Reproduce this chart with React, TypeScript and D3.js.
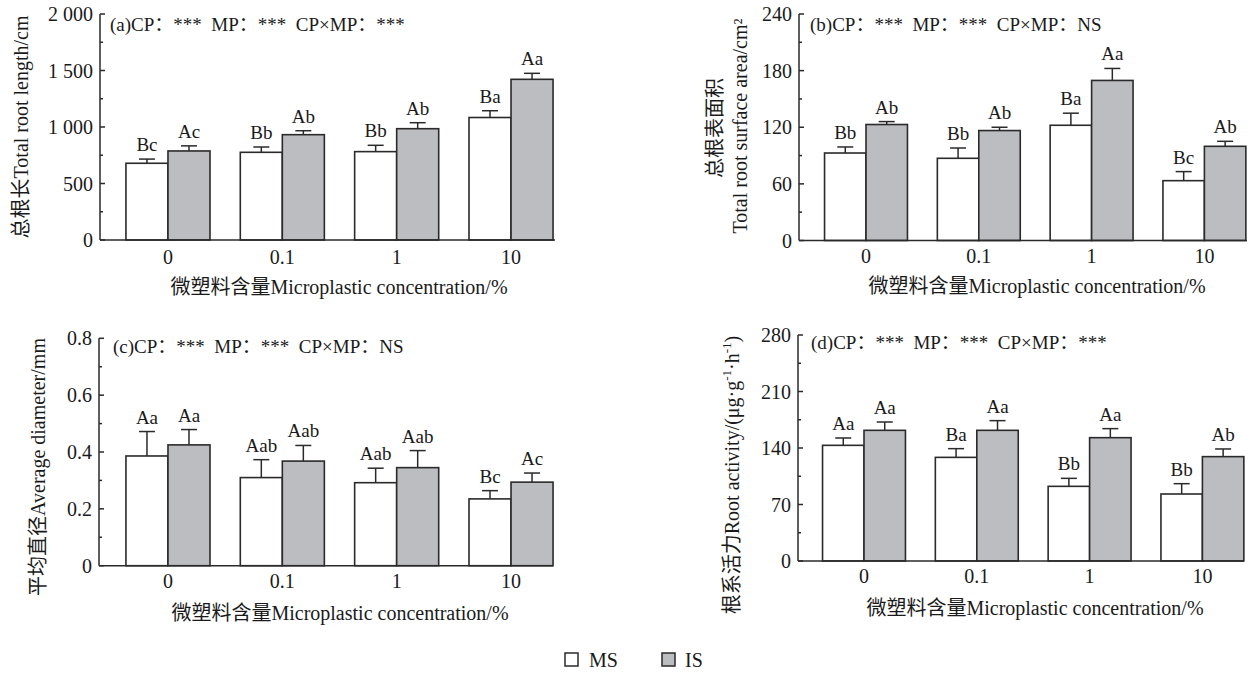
import React from "react";
import * as d3 from "d3";

const categories = ["0", "0.1", "1", "10"];

// (a) Total root length
const lengthMS = [679, 776, 782, 1084];
const lengthMSErr = [37, 47, 56, 60];
const lengthIS = [788, 932, 985, 1422];
const lengthISErr = [45, 35, 53, 53];
const lengthMSLabels = ["Bc", "Bb", "Bb", "Ba"];
const lengthISLabels = ["Ac", "Ab", "Ab", "Aa"];
const lengthTicks = [0, 500, 1000, 1500, 2000];
const lengthTickLabels = ["0", "500", "1 000", "1 500", "2 000"];

// (b) Total root surface area
const areaMS = [92.7, 87.1, 122.1, 63.4];
const areaMSErr = [6.4, 10.9, 12.8, 9.6];
const areaIS = [122.9, 116.5, 169.6, 99.8];
const areaISErr = [3.1, 3.5, 12.7, 5.3];
const areaMSLabels = ["Bb", "Bb", "Ba", "Bc"];
const areaISLabels = ["Ab", "Ab", "Aa", "Ab"];
const areaTicks = [0, 60, 120, 180, 240];
const areaTickLabels = ["0", "60", "120", "180", "240"];

// (c) Average diameter
const diamMS = [0.386, 0.31, 0.292, 0.235];
const diamMSErr = [0.086, 0.063, 0.051, 0.029];
const diamIS = [0.425, 0.368, 0.345, 0.294];
const diamISErr = [0.054, 0.055, 0.06, 0.032];
const diamMSLabels = ["Aa", "Aab", "Aab", "Bc"];
const diamISLabels = ["Aa", "Aab", "Aab", "Ac"];
const diamTicks = [0, 0.2, 0.4, 0.6, 0.8];
const diamTickLabels = ["0", "0.2", "0.4", "0.6", "0.8"];

// (d) Root activity
const actMS = [143.3, 128.4, 92.5, 83.0];
const actMSErr = [9.1, 10.8, 9.9, 12.8];
const actIS = [161.9, 161.9, 152.8, 129.3];
const actISErr = [10.3, 12.0, 11.2, 9.5];
const actMSLabels = ["Aa", "Ba", "Bb", "Bb"];
const actISLabels = ["Aa", "Aa", "Aa", "Ab"];
const actTicks = [0, 70, 140, 210, 280];
const actTickLabels = ["0", "70", "140", "210", "280"];

const seriesNames = ["MS", "IS"];
const xTitle = "微塑料含量Microplastic concentration/%";

const FONT = "'Liberation Serif', 'Times New Roman', 'Noto Sans CJK SC', serif";
const IS_FILL = "#bcbdc1";
const STROKE = "#2a2a2a";

type Panel = {
  ms: number[]; msErr: number[]; is: number[]; isErr: number[];
  msLab: string[]; isLab: string[];
  ticks: number[]; tickLabels: string[];
  annot: string;
  axisX: number; axisEnd: number; bandStart: number; bandEnd: number;
  yTop: number; yBottom: number;
  annotX: number; annotY: number;
  catY: number; titleX: number; titleY: number;
  ylabel: React.ReactNode;
};

const panels: Panel[] = [
  {
    ms: lengthMS, msErr: lengthMSErr, is: lengthIS, isErr: lengthISErr,
    msLab: lengthMSLabels, isLab: lengthISLabels,
    ticks: lengthTicks, tickLabels: lengthTickLabels,
    annot: "(a)CP：***  MP：***  CP×MP：***",
    axisX: 100, axisEnd: 555, bandStart: 110.8, bandEnd: 568.2,
    yTop: 14, yBottom: 240,
    annotX: 110, annotY: 31, catY: 264, titleX: 339, titleY: 294,
    ylabel: (
      <text transform="translate(28,127) rotate(-90)" textAnchor="middle" fontSize={20}>
        总根长Total root length/cm
      </text>
    ),
  },
  {
    ms: areaMS, msErr: areaMSErr, is: areaIS, isErr: areaISErr,
    msLab: areaMSLabels, isLab: areaISLabels,
    ticks: areaTicks, tickLabels: areaTickLabels,
    annot: "(b)CP：***  MP：***  CP×MP：NS",
    axisX: 799, axisEnd: 1247, bandStart: 809.6, bandEnd: 1260.8,
    yTop: 14, yBottom: 240.5,
    annotX: 810, annotY: 31, catY: 263, titleX: 1037, titleY: 293,
    ylabel: (
      <g>
        <text transform="translate(722,128) rotate(-90)" textAnchor="middle" fontSize={20}>
          总根表面积
        </text>
        <text transform="translate(747,126) rotate(-90)" textAnchor="middle" fontSize={20}>
          Total root surface area/cm²
        </text>
      </g>
    ),
  },
  {
    ms: diamMS, msErr: diamMSErr, is: diamIS, isErr: diamISErr,
    msLab: diamMSLabels, isLab: diamISLabels,
    ticks: diamTicks, tickLabels: diamTickLabels,
    annot: "(c)CP：***  MP：***  CP×MP：NS",
    axisX: 99, axisEnd: 553, bandStart: 110.8, bandEnd: 568.2,
    yTop: 338.3, yBottom: 565.7,
    annotX: 113, annotY: 353, catY: 588, titleX: 340, titleY: 620,
    ylabel: (
      <text transform="translate(45,467) rotate(-90)" textAnchor="middle" fontSize={20}>
        平均直径Average diameter/mm
      </text>
    ),
  },
  {
    ms: actMS, msErr: actMSErr, is: actIS, isErr: actISErr,
    msLab: actMSLabels, isLab: actISLabels,
    ticks: actTicks, tickLabels: actTickLabels,
    annot: "(d)CP：***  MP：***  CP×MP：***",
    axisX: 798, axisEnd: 1244, bandStart: 807.6, bandEnd: 1258.8,
    yTop: 335, yBottom: 561,
    annotX: 811, annotY: 349, catY: 583, titleX: 1035, titleY: 615,
    ylabel: (
      <text transform="translate(739,475) rotate(-90)" textAnchor="middle" fontSize={20}>
        根系活力Root activity/(μg·g
        <tspan fontSize={13} dy={-8}>-1</tspan>
        <tspan dy={8}>·h</tspan>
        <tspan fontSize={13} dy={-8}>-1</tspan>
        <tspan dy={8}>)</tspan>
      </text>
    ),
  },
];

function PanelView({ p }: { p: Panel }) {
  const maxV = p.ticks[p.ticks.length - 1];
  const y = d3.scaleLinear().domain([0, maxV]).range([p.yBottom, p.yTop]);
  const x0 = d3.scaleBand<string>().domain(categories).range([p.bandStart, p.bandEnd])
    .paddingInner(0.265).paddingOuter(0.1325);
  const x1 = d3.scaleBand<string>().domain(seriesNames).range([0, x0.bandwidth()]);
  const step = p.ticks[1] - p.ticks[0];
  const minor = p.ticks.slice(0, -1).map((t) => t + step / 2);
  const series = [
    { name: "MS", vals: p.ms, errs: p.msErr, labs: p.msLab, fill: "#ffffff" },
    { name: "IS", vals: p.is, errs: p.isErr, labs: p.isLab, fill: IS_FILL },
  ];
  return (
    <g>
      {series.map((s) =>
        categories.map((c, i) => {
          const bx = (x0(c) ?? 0) + (x1(s.name) ?? 0);
          const bw = x1.bandwidth();
          const cx = bx + bw / 2;
          const top = y(s.vals[i]);
          const eTop = y(s.vals[i] + s.errs[i]);
          return (
            <g key={s.name + c}>
              <line x1={cx} x2={cx} y1={top} y2={eTop} stroke={STROKE} strokeWidth={1.5} />
              <line x1={cx - 8} x2={cx + 8} y1={eTop} y2={eTop} stroke={STROKE} strokeWidth={1.5} />
              <rect x={bx} y={top} width={bw} height={p.yBottom - top} fill={s.fill}
                stroke={STROKE} strokeWidth={1.6} />
              <text x={cx} y={eTop - 8} textAnchor="middle" fontSize={19}>{s.labs[i]}</text>
            </g>
          );
        })
      )}
      {/* y axis */}
      <line x1={p.axisX} x2={p.axisX} y1={p.yTop} y2={p.yBottom} stroke={STROKE} strokeWidth={1.5} />
      {p.ticks.map((t, i) => (
        <g key={"t" + t}>
          <line x1={p.axisX} x2={p.axisX + 5} y1={y(t)} y2={y(t)} stroke={STROKE} strokeWidth={1.5} />
          <text x={p.axisX - 7} y={y(t) + 7} textAnchor="end" fontSize={20}>{p.tickLabels[i]}</text>
        </g>
      ))}
      {minor.map((t) => (
        <line key={"m" + t} x1={p.axisX} x2={p.axisX + 3} y1={y(t)} y2={y(t)} stroke={STROKE} strokeWidth={1.5} />
      ))}
      {/* x axis */}
      <line x1={p.axisX} x2={p.axisEnd} y1={p.yBottom} y2={p.yBottom} stroke={STROKE} strokeWidth={1.5} />
      {categories.map((c) => (
        <text key={"c" + c} x={(x0(c) ?? 0) + x0.bandwidth() / 2} y={p.catY} textAnchor="middle" fontSize={20}>
          {c}
        </text>
      ))}
      <text x={p.titleX} y={p.titleY} textAnchor="middle" fontSize={20}>{xTitle}</text>
      <text x={p.annotX} y={p.annotY} fontSize={19} xmlSpace="preserve">{p.annot}</text>
      {p.ylabel}
    </g>
  );
}

export default function App() {
  return (
    <svg width={1258} height={673} style={{ position: "absolute", left: 0, top: 0, background: "#fff" }}
      fontFamily={FONT} fill="#1a1a1a">
      <rect width={1258} height={673} fill="#fff" />
      {panels.map((p, i) => (
        <PanelView key={i} p={p} />
      ))}
      {/* legend */}
      <rect x={565} y={653} width={13} height={13} fill="#fff" stroke={STROKE} strokeWidth={1.5} />
      <text x={589} y={667} fontSize={20}>{seriesNames[0]}</text>
      <rect x={662} y={653} width={13} height={13} fill={IS_FILL} stroke={STROKE} strokeWidth={1.5} />
      <text x={685} y={667} fontSize={20}>{seriesNames[1]}</text>
    </svg>
  );
}
